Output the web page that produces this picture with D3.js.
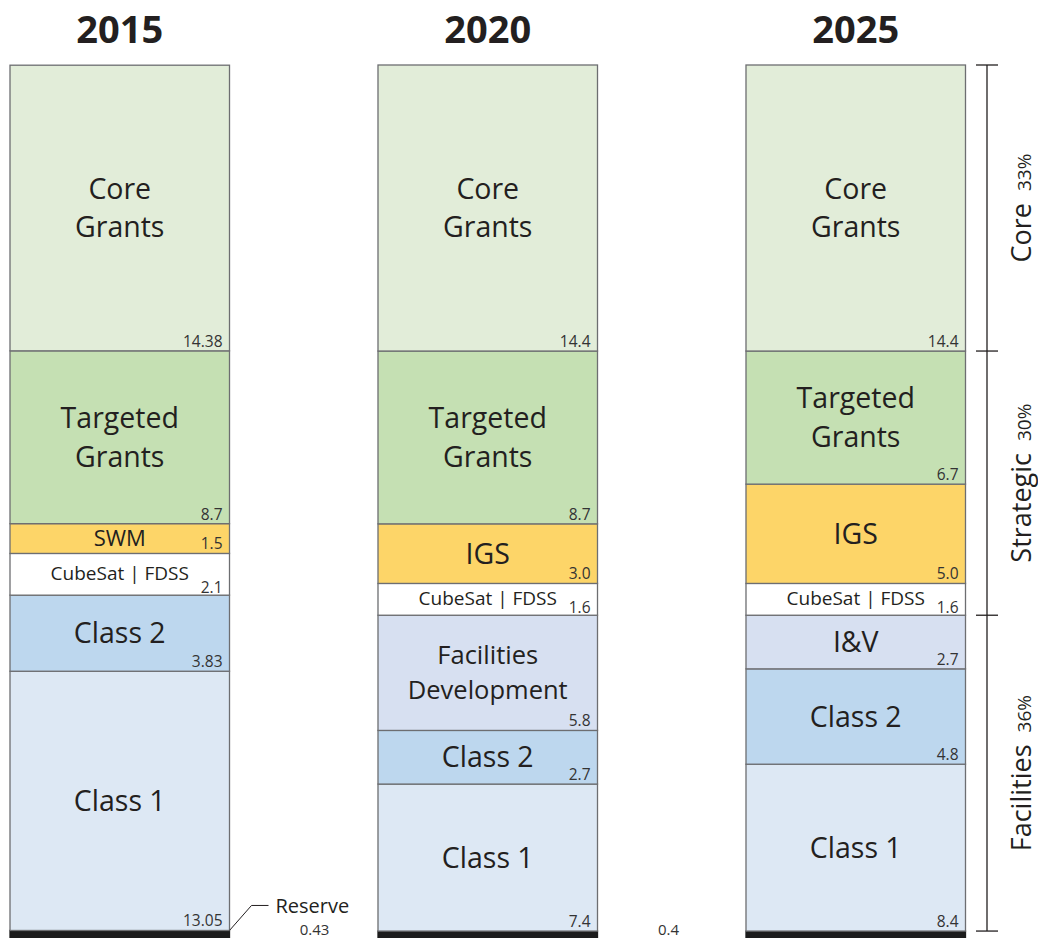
<!DOCTYPE html>
<html>
<head>
<meta charset="utf-8">
<script src="https://cdn.jsdelivr.net/npm/d3@7"></script>
<style>
  body { margin: 0; background: #fff; }
  svg { font-family: "Open Sans", "Noto Sans", sans-serif; }
  text { fill: #231f20; }
</style>
</head>
<body>
<svg></svg>
<script>
const years = ["2015", "2020", "2025"]

// segments listed bottom to top
const names2015 = ["Reserve", "Class 1", "Class 2", "CubeSat | FDSS", "SWM", "Targeted Grants", "Core Grants"]
const values2015 = [0.43, 13.05, 3.83, 2.1, 1.5, 8.7, 14.38]
const labels2015 = ["0.43", "13.05", "3.83", "2.1", "1.5", "8.7", "14.38"]

const names2020 = ["Reserve", "Class 1", "Class 2", "Facilities Development", "CubeSat | FDSS", "IGS", "Targeted Grants", "Core Grants"]
const values2020 = [0.4, 7.4, 2.7, 5.8, 1.6, 3.0, 8.7, 14.4]
const labels2020 = ["0.4", "7.4", "2.7", "5.8", "1.6", "3.0", "8.7", "14.4"]

const names2025 = ["Reserve", "Class 1", "Class 2", "I&V", "CubeSat | FDSS", "IGS", "Targeted Grants", "Core Grants"]
const values2025 = [0.4, 8.4, 4.8, 2.7, 1.6, 5.0, 6.7, 14.4]
const labels2025 = ["", "8.4", "4.8", "2.7", "1.6", "5.0", "6.7", "14.4"]

const groupNames = ["Core", "Strategic", "Facilities"]
const groupShares = ["33%", "30%", "36%"]
// bracket bounds in budget units (from the bottom of 2025 bar)
const groupBounds = [[29.6, 44.0], [16.3, 29.6], [0.4, 16.3]]

const categories = ["Reserve", "Class 1", "Class 2", "Facilities Development", "I&V", "CubeSat | FDSS", "SWM", "IGS", "Targeted Grants", "Core Grants"]
const colors = ["#1c1c1c", "#dde8f4", "#bdd7ee", "#d7e0f1", "#d7e0f1", "#ffffff", "#fdd568", "#fdd568", "#c5e0b3", "#e2edd9"]

const svg = d3.select("svg")
  .attr("width", 1038)
  .attr("height", 938)

const color = d3.scaleOrdinal().domain(categories).range(colors)

const scaleX = d3.scaleBand()
  .domain(years)
  .range([10, 965.5])
  .paddingInner(0.4035)
  .paddingOuter(0)

const scaleY = d3.scaleLinear()
  .domain([0, 44])
  .range([939, 65])

const tables = [
  { year: "2015", names: names2015, values: values2015, labels: labels2015 },
  { year: "2020", names: names2020, values: values2020, labels: labels2020 },
  { year: "2025", names: names2025, values: values2025, labels: labels2025 }
]

const segments = []
tables.forEach((t) => {
  let base = 0
  t.names.forEach((n, i) => {
    segments.push({ year: t.year, name: n, y0: base, y1: base + t.values[i], label: t.labels[i] })
    base += t.values[i]
  })
})

const bw = scaleX.bandwidth()

// year titles
svg.selectAll("text.year")
  .data(years)
  .enter()
  .append("text")
  .attr("class", "year")
  .attr("x", (d) => scaleX(d) + bw / 2)
  .attr("y", 43)
  .attr("text-anchor", "middle")
  .style("font-size", "38px")
  .style("font-weight", "bold")
  .text((d) => d)

const segs = svg.selectAll("g.seg")
  .data(segments)
  .enter()
  .append("g")
  .attr("class", "seg")

segs.append("rect")
  .attr("x", (d) => scaleX(d.year))
  .attr("y", (d) => scaleY(d.y1))
  .attr("width", bw)
  .attr("height", (d) => scaleY(d.y0) - scaleY(d.y1))
  .attr("fill", (d) => color(d.name))
  .attr("stroke", (d) => d.name === "Reserve" ? "#1c1c1c" : "#6d6e71")
  .attr("stroke-width", 1.3)

const nameSize = (d) => {
  if (d.name === "CubeSat | FDSS") return 19
  if (d.name === "SWM") return 22
  if (d.name === "Facilities Development") return 25.5
  return 28.5
}

const nameLines = (d) => {
  if (d.name === "Core Grants") return ["Core", "Grants"]
  if (d.name === "Targeted Grants") return ["Targeted", "Grants"]
  if (d.name === "Facilities Development") return ["Facilities", "Development"]
  return [d.name]
}

const inner = segs.filter((d) => d.name !== "Reserve")

inner.each(function(d) {
  const g = d3.select(this)
  const lines = nameLines(d)
  const size = nameSize(d)
  const lh = size * 1.36
  const cy = (scaleY(d.y0) + scaleY(d.y1)) / 2 - (d.name === "CubeSat | FDSS" ? 1 : 0)
  lines.forEach((line, i) => {
    g.append("text")
      .attr("x", scaleX(d.year) + bw / 2)
      .attr("y", cy + (i - (lines.length - 1) / 2) * lh)
      .attr("dy", "0.35em")
      .attr("text-anchor", "middle")
      .style("font-size", size + "px")
      .text(line)
  })
  g.append("text")
    .attr("x", scaleX(d.year) + bw - 7)
    .attr("y", scaleY(d.y0) - (d.name === "CubeSat | FDSS" ? 2 : 4))
    .attr("text-anchor", "end")
    .style("font-size", "15.5px")
    .style("fill", "#333")
    .text(d.label)
})

// reserve labels
const res2015 = segments.find((d) => d.year === "2015" && d.name === "Reserve")
const rx = scaleX("2015") + bw
const ry = scaleY(res2015.y1)
svg.append("path")
  .attr("d", `M${rx},${ry} L${rx + 22},${ry - 25} L${rx + 39},${ry - 25}`)
  .attr("fill", "none")
  .attr("stroke", "#231f20")
  .attr("stroke-width", 1)
svg.append("text")
  .attr("x", rx + 46)
  .attr("y", ry - 17)
  .style("font-size", "20px")
  .text(res2015.name)
svg.append("text")
  .attr("x", rx + 85)
  .attr("y", 935)
  .attr("text-anchor", "middle")
  .style("font-size", "15px")
  .style("fill", "#333")
  .text(res2015.label)

const res2020 = segments.find((d) => d.year === "2020" && d.name === "Reserve")
svg.append("text")
  .attr("x", scaleX("2020") + bw + 71)
  .attr("y", 935)
  .attr("text-anchor", "middle")
  .style("font-size", "15px")
  .style("fill", "#333")
  .text(res2020.label)

// bracket on the right
const bx = 987
svg.append("line")
  .attr("x1", bx).attr("x2", bx)
  .attr("y1", scaleY(groupBounds[0][1]))
  .attr("y2", scaleY(groupBounds[2][0]))
  .attr("stroke", "#231f20")
  .attr("stroke-width", 1.3)

const ticks = [groupBounds[0][1], groupBounds[0][0], groupBounds[1][0], groupBounds[2][0]]
svg.selectAll("line.btick")
  .data(ticks)
  .enter()
  .append("line")
  .attr("class", "btick")
  .attr("x1", bx - 11).attr("x2", bx + 11)
  .attr("y1", (d) => scaleY(d)).attr("y2", (d) => scaleY(d))
  .attr("stroke", "#231f20")
  .attr("stroke-width", 1.3)

const glabels = svg.selectAll("text.group")
  .data(groupNames)
  .enter()
  .append("text")
  .attr("class", "group")
  .attr("text-anchor", "middle")
  .attr("transform", (d, i) => {
    const cy = (scaleY(groupBounds[i][0]) + scaleY(groupBounds[i][1])) / 2
    return `translate(1031, ${cy}) rotate(-90)`
  })

glabels.append("tspan")
  .style("font-size", "27px")
  .text((d) => d)
glabels.append("tspan")
  .attr("dx", 12)
  .style("font-size", "19px")
  .text((d, i) => groupShares[i])
</script>
</body>
</html>
